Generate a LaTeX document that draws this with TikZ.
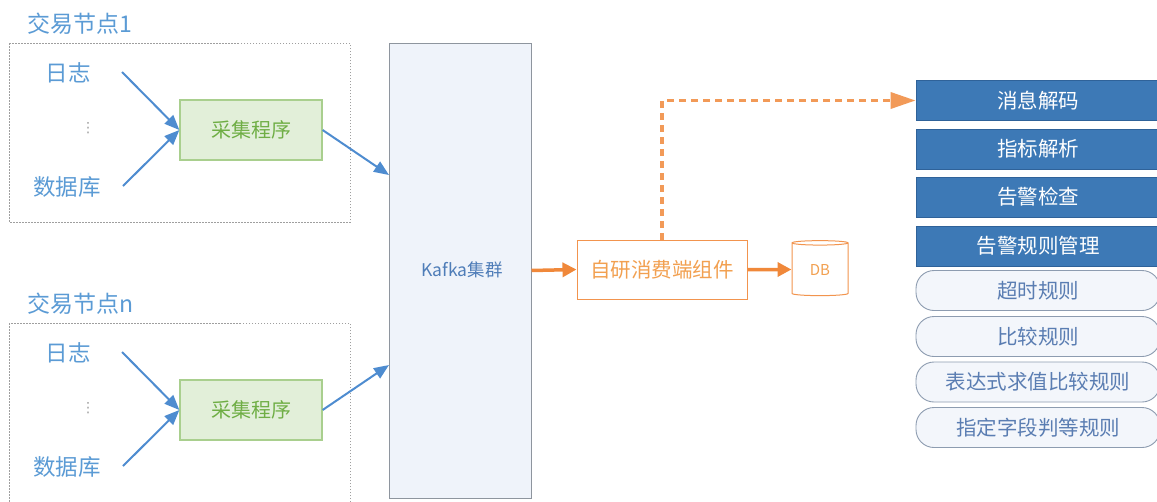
\documentclass[tikz,border=0pt]{standalone}
\usepackage{fontspec}
\setmainfont{Noto Sans CJK SC}
\newfontfamily\dejavu{DejaVu Sans}
\usetikzlibrary{arrows.meta,shapes.geometric}
\definecolor{lblue}{HTML}{5B9BD5}
\definecolor{ablue}{HTML}{4E8CD0}
\definecolor{gfill}{HTML}{E2EFD9}
\definecolor{gdraw}{HTML}{A9CF8E}
\definecolor{gtext}{HTML}{6FAE45}
\definecolor{kfill}{HTML}{EFF3FA}
\definecolor{kdraw}{HTML}{8E959E}
\definecolor{ktext}{HTML}{4F7DB8}
\definecolor{orl}{HTML}{F0883A}
\definecolor{ortext}{HTML}{F2A050}
\definecolor{bfill}{HTML}{3D79B6}
\definecolor{bdraw}{HTML}{2F6299}
\definecolor{rdraw}{HTML}{8D9CB0}
\definecolor{rtext}{HTML}{5A7DB2}
\definecolor{rfill}{HTML}{F3F6FB}
\begin{document}
\begin{tikzpicture}[x=1pt,y=-1pt,
  grouplbl/.style={anchor=west,text=lblue,font=\fontsize{23}{27}\selectfont,inner sep=0pt},
  srclbl/.style={text=lblue,font=\fontsize{22.5}{26}\selectfont,inner sep=0pt},
  vdot/.style={text=gray!75,font=\dejavu\fontsize{14}{16}\selectfont,inner sep=0pt},
  dotbox/.style={draw=gray!75,line width=1pt,dash pattern=on 1.5pt off 1.5pt},
  collect/.style={draw=gdraw,fill=gfill,line width=1.2pt,minimum width=142pt,minimum height=60pt,text=gtext,font=\fontsize{20}{24}\selectfont},
  barrow/.style={draw=ablue,line width=2pt,-{Triangle[length=15pt,width=12pt]}},
  oarrow/.style={draw=orl,line width=3.5pt,-{Triangle[length=14pt,width=14pt]}},
  bluebox/.style={draw=bdraw,fill=bfill,line width=0.8pt,minimum width=244pt,minimum height=40pt,text=white,font=\fontsize{20.5}{24}\selectfont},
  rulebox/.style={draw=rdraw,fill=rfill,line width=0.9pt,rounded corners=18pt,minimum width=244pt,minimum height=40pt,text=rtext,font=\fontsize{20.5}{24}\selectfont}
]
\useasboundingbox[fill=white] (0,0) rectangle (1157,501);

% ---- group 1
\node[grouplbl] (g1) at (27,24) {交易节点1};
\draw[dotbox] (9,43) rectangle (350,222);
\node[srclbl] (log1) at (68,73) {日志};
\node[vdot] (dots1) at (88,128) {⋮};
\node[srclbl] (db1) at (67,187) {数据库};
\node[collect] (col1) at (251,130) {采集程序};
\coordinate (l1s) at (122,72);
\coordinate (d1s) at (123,186);
\draw[barrow] (l1s) -- (col1.west);
\draw[barrow] (d1s) -- (col1.west);

% ---- group n
\node[grouplbl] (g2) at (27,304) {交易节点n};
\draw[dotbox] (9,323) rectangle (350,506);
\node[srclbl] (log2) at (68,353) {日志};
\node[vdot] (dots2) at (88,408) {⋮};
\node[srclbl] (db2) at (67,467) {数据库};
\node[collect] (col2) at (251,410) {采集程序};
\coordinate (l2s) at (122,352);
\coordinate (d2s) at (123,466);
\draw[barrow] (l2s) -- (col2.west);
\draw[barrow] (d2s) -- (col2.west);

% ---- kafka
\node[draw=kdraw,fill=kfill,line width=1pt,minimum width=142pt,minimum height=455pt,inner sep=0pt] (kafka) at (460,270.5) {};
\node[text=ktext,font=\fontsize{17.5}{21}\selectfont] (klbl) at (462,270) {Kafka集群};
\coordinate (k1) at (389,175);
\coordinate (k2) at (389,365);
\draw[barrow] (col1.east) -- (k1);
\draw[barrow] (col2.east) -- (k2);

% ---- consumer and DB
\node[draw=orl!90,line width=1pt,minimum width=170pt,minimum height=59pt,text=ortext,font=\fontsize{20.5}{24}\selectfont] (cons) at (662,269.5) {自研消费端组件};
\node[cylinder,shape border rotate=90,aspect=0.22,draw=orl!90,fill=white,line width=1pt,minimum width=56pt,minimum height=55pt,text=ortext,font=\fontsize{15}{18}\selectfont,inner sep=0pt] (db) at (820,269.5) {DB};
\draw[oarrow] (kafka.east) -- (cons.west);
\draw[oarrow] (cons.east) -- (db.west);

% ---- right stack
\node[bluebox] (msg) at (1038,100.5) {消息解码};
\node[bluebox] (idx) at (1038,149) {指标解析};
\node[bluebox] (chk) at (1038,197) {告警检查};
\node[bluebox] (mgr) at (1038,246) {告警规则管理};
\node[rulebox] (r1) at (1038,290.5) {超时规则};
\node[rulebox] (r2) at (1038,336.5) {比较规则};
\node[rulebox] (r3) at (1038,382) {表达式求值比较规则};
\node[rulebox] (r4) at (1038,427.5) {指定字段判等规则};

\draw[draw=orl!85,line width=3.5pt,dash pattern=on 7pt off 5pt,-{Triangle[length=25pt,width=16pt]}] (cons.north) |- (msg.west);
\end{tikzpicture}
\end{document}
